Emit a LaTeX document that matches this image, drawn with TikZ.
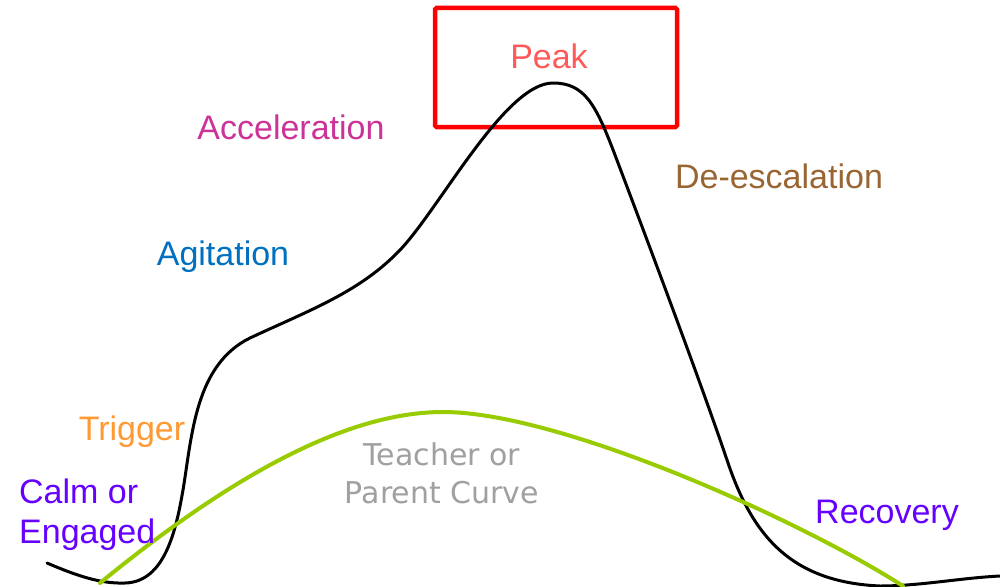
\documentclass[tikz,border=0pt]{standalone}
\usepackage{fontspec}
\setmainfont{Liberation Sans}
\newfontfamily\notefont{DejaVu Sans}
\definecolor{peakred}{RGB}{255,90,90}
\definecolor{accelpink}{RGB}{204,51,153}
\definecolor{deescbrown}{RGB}{153,102,51}
\definecolor{agitblue}{RGB}{0,112,192}
\definecolor{trigorange}{RGB}{255,153,51}
\definecolor{calmpurple}{RGB}{102,0,255}
\definecolor{notegray}{RGB}{160,160,160}
\definecolor{adultgreen}{RGB}{153,204,0}

\begin{document}
\begin{tikzpicture}[x=1pt,y=-1pt,
  phase/.style={inner sep=0pt,font=\fontsize{34}{40}\selectfont},
  note/.style={inner sep=0pt,align=center,text=notegray,font=\notefont\fontsize{30}{38}\selectfont},
  student/.style={line width=3pt,line cap=round,line join=round},
  adult/.style={draw=adultgreen,line width=4pt,line cap=round,line join=round}]
\useasboundingbox (0,0) rectangle (1000,586);
\fill[white] (0,0) rectangle (1000,586);

% PEAK BOX
\draw[red,line width=4.5pt,rounded corners=1.5pt] (435,8) rectangle (677,127);
\node[phase,text=peakred,anchor=base] (peak) at (549,68) {Peak};

% STUDENT CURVE
\draw[student] (47,563) .. controls (75,575) and (100,584) .. (125,583)
  .. controls (165,582) and (176,530) .. (183,490)
  .. controls (192,436) and (195,365) .. (250,338)
  .. controls (310,310) and (360,292) .. (400,250)
  .. controls (440,208) and (505,83) .. (553,83)
  .. controls (585,83) and (596,105) .. (615,155)
  .. controls (640,221) and (700,380) .. (727,460)
  .. controls (752,535) and (790,582) .. (880,586)
  .. controls (920,586) and (960,578) .. (1000,576);

% TEACHER OR PARENT CURVE
\draw[adult] (100,583) .. controls (220,485) and (340,412) .. (443,412)
  .. controls (560,412) and (800,520) .. (903,586);
\node[note,anchor=base] (teacher) at (442,503) {Teacher or\\Parent Curve};

% PHASE LABELS
\node[phase,text=accelpink,anchor=base] (accel) at (291,139) {Acceleration};
\node[phase,text=deescbrown,anchor=base] (deesc) at (779,188) {De-escalation};
\node[phase,text=agitblue,anchor=base] (agit) at (223,265) {Agitation};
\node[phase,text=trigorange,anchor=base] (trig) at (132,440) {Trigger};
\node[phase,text=calmpurple,anchor=base west,align=left] (calm) at (19,543) {Calm or\\Engaged};
\node[phase,text=calmpurple,anchor=base] (recov) at (887,523) {Recovery};
\end{tikzpicture}
\end{document}
